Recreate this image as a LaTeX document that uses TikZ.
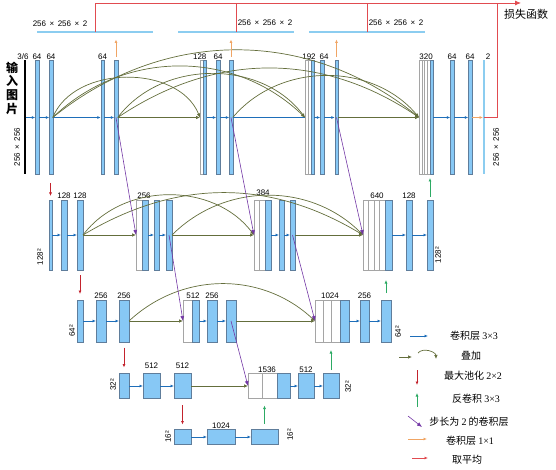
\documentclass[tikz,border=0pt]{standalone}
\usepackage{fontspec}
\setmainfont{Liberation Sans}
\newfontfamily\cjk{Noto Sans CJK SC}
\newfontfamily\legserif{Liberation Serif}
\usetikzlibrary{arrows.meta,positioning}

\definecolor{barfill}{RGB}{135,200,245}
\definecolor{barline}{RGB}{95,125,155}
\definecolor{catline}{RGB}{165,165,165}
\definecolor{mapcyan}{RGB}{140,205,240}
\definecolor{convblue}{RGB}{30,110,185}
\definecolor{skipolive}{RGB}{100,110,60}
\definecolor{strideviolet}{RGB}{115,55,165}
\definecolor{poolred}{RGB}{195,35,45}
\definecolor{upgreen}{RGB}{45,170,100}
\definecolor{oneorange}{RGB}{240,165,100}
\definecolor{avgred}{RGB}{225,75,80}

\newcommand{\tms}{\hspace{3.5pt}×\hspace{3.5pt}}

\begin{document}
\begin{tikzpicture}[
  x=1pt, y=-1pt,
  font=\fontsize{8}{9}\selectfont,
  every label/.style={inner sep=1pt},
  fmap/.style={draw=barline, fill=barfill, line width=0.5pt, inner sep=0pt, outer sep=0pt, minimum width=3.5pt},
  catbox/.style={draw=catline, fill=white, line width=0.5pt, inner sep=0pt, outer sep=0pt},
  r1/.style={minimum height=114pt, label distance=2.5pt},
  r2/.style={minimum height=70pt, label distance=5pt},
  r3/.style={minimum height=42pt, label distance=6pt},
  r4/.style={minimum height=25pt, label distance=4pt},
  r5/.style={minimum height=15pt, label distance=2.5pt},
  outmap/.style={fill=mapcyan, inner sep=0pt, outer sep=0pt, minimum height=1.4pt, minimum width=116pt},
  conv/.style={draw=convblue, line width=0.7pt, -{Latex[length=3.5pt,width=3pt]}},
  convline/.style={draw=convblue, line width=0.7pt},
  concat/.style={draw=skipolive, line width=0.7pt, -{Latex[length=4pt,width=3.5pt]}},
  stride/.style={draw=strideviolet, line width=0.6pt, -{Latex[length=5pt,width=4pt]}},
  pool/.style={draw=poolred, line width=0.7pt, -{Latex[length=3.5pt,width=3pt]}},
  deconv/.style={draw=upgreen, line width=0.7pt, -{Latex[length=3.5pt,width=3pt]}},
  onebyone/.style={draw=oneorange, line width=0.7pt, -{Latex[length=3.5pt,width=3pt]}},
  avg/.style={draw=avgred, line width=0.8pt},
  sidetxt/.style={rotate=90, inner sep=0pt},
  legtxt/.style={font=\cjk\fontsize{10}{12}\selectfont, inner sep=0pt}
]
\useasboundingbox (0,0) rectangle (556,470);

% ====================== 256 x 256 ======================
\node[fill=black, inner sep=0pt, outer sep=0pt, minimum width=1.2pt, minimum height=114pt] (inp) at (25,117.5) {};
\node[font=\cjk\bfseries\fontsize{12}{13.7}\selectfont, align=center, inner sep=0pt] (inptxt) at (12,88) {输\\入\\图\\片};
\node[sidetxt] (s1l) at (17,147) {256\tms256};

\node[fmap, r1, label=above:64, label={[xshift=-14pt]above:3/6}] (r1b1) at (37,117.5) {};
\node[fmap, r1, label=above:64] (r1b2) at (51,117.5) {};
\node[fmap, r1, label=above:64] (r1b3) at (102.5,117.5) {};
\node[fmap, r1] (r1b4) at (116,117.5) {};
\node[catbox, r1, minimum width=3pt] (r1k1a) at (201.5,117.5) {};
\node[fmap, r1, right=0pt of r1k1a, label={[xshift=-5pt]above:128}] (r1k1b) {};
\node[fmap, r1, label=above:64] (r1b5) at (218,117.5) {};
\node[fmap, r1] (r1b6) at (231,117.5) {};
\node[catbox, r1, minimum width=3pt] (r1k2a) at (306.5,117.5) {};
\node[catbox, r1, minimum width=3pt, right=0pt of r1k2a] (r1k2b) {};
\node[fmap, r1, minimum width=3pt, right=0pt of r1k2b, label={[xshift=-3.5pt]above:192}] (r1k2c) {};
\node[fmap, r1, label={[xshift=2pt]above:64}] (r1b7) at (322,117.5) {};
\node[fmap, r1] (r1b8) at (336.5,117.5) {};
\node[catbox, r1, minimum width=2.75pt] (r1k3a) at (420.4,117.5) {};
\node[catbox, r1, minimum width=2.75pt, right=0pt of r1k3a] (r1k3b) {};
\node[catbox, r1, minimum width=2.75pt, right=0pt of r1k3b] (r1k3c) {};
\node[catbox, r1, minimum width=2.75pt, right=0pt of r1k3c] (r1k3d) {};
\node[fmap, r1, minimum width=3pt, right=0pt of r1k3d, label={[xshift=-5.5pt]above:320}] (r1k3e) {};
\node[fmap, r1, label=above:64] (r1b9) at (452,117.5) {};
\node[fmap, r1, label=above:64] (r1b10) at (470,117.5) {};
\node[fill=mapcyan, inner sep=0pt, outer sep=0pt, r1, minimum width=2pt, label={[xshift=4pt]above:2}] (r1out) at (484,117.5) {};
\node[sidetxt] (s1r) at (496,147) {256\tms256};

% uscite supervisionate
\node[outmap] (o1) at (95,32) {};
\node[outmap] (o2) at (236,32) {};
\node[outmap] (o3) at (367,32) {};
\node (t1) at (60,23.5) {256\tms256\tms2};
\node (t2) at (265,23) {256\tms256\tms2};
\node (t3) at (396,23) {256\tms256\tms2};
\coordinate (loss) at (521,3);
\coordinate (turn) at (497,117.5);
\node[font=\cjk\fontsize{11}{12}\selectfont, inner sep=0pt] (losstxt) at (526,14) {损失函数};

% ====================== 128 x 128 ======================
\node[sidetxt] (s2l) at (40,257) {128²};
\node[fmap, r2, minimum width=3pt] (r2b1) at (50.5,235) {};
\node[fmap, r2, minimum width=6pt, label=above:128] (r2b2) at (64,235) {};
\node[fmap, r2, minimum width=6pt, label=above:128] (r2b3) at (80,235) {};
\node[catbox, r2, minimum width=6pt] (r2k1a) at (139,235) {};
\node[fmap, r2, minimum width=6pt, right=0pt of r2k1a, label={[xshift=-1pt]above:256}] (r2k1b) {};
\node[fmap, r2, minimum width=5pt] (r2b4) at (156.5,235) {};
\node[fmap, r2, minimum width=6pt] (r2b5) at (169,235) {};
\node[catbox, r2, minimum width=5.5pt] (r2k2a) at (256.75,235) {};
\node[catbox, r2, minimum width=5.5pt, right=0pt of r2k2a] (r2k2b) {};
\node[fmap, r2, minimum width=6pt, right=0pt of r2k2b, label={[xshift=-5pt, yshift=3pt]above:384}] (r2k2c) {};
\node[fmap, r2, minimum width=5pt] (r2b6) at (281.5,235) {};
\node[fmap, r2, minimum width=5pt] (r2b7) at (292.5,235) {};
\node[catbox, r2, minimum width=5.5pt] (r2k3a) at (365.75,235) {};
\node[catbox, r2, minimum width=5.5pt, right=0pt of r2k3a] (r2k3b) {};
\node[catbox, r2, minimum width=5.5pt, right=0pt of r2k3b] (r2k3c) {};
\node[catbox, r2, minimum width=5.5pt, right=0pt of r2k3c] (r2k3d) {};
\node[fmap, r2, minimum width=7pt, right=0pt of r2k3d, label={[xshift=-11.5pt]above:640}] (r2k3e) {};
\node[fmap, r2, minimum width=6pt, label=above:128] (r2b8) at (409,235) {};
\node[fmap, r2, minimum width=6pt] (r2b9) at (430,235) {};
\node[sidetxt] (s2r) at (438,255) {128²};

% ====================== 64 x 64 ======================
\node[sidetxt] (s3l) at (72,331) {64²};
\node[fmap, r3, minimum width=6pt] (r3b1) at (80,321) {};
\node[fmap, r3, minimum width=10pt, label=above:256] (r3b2) at (101,321) {};
\node[fmap, r3, minimum width=10pt, label=above:256] (r3b3) at (124,321) {};
\node[catbox, r3, minimum width=9pt] (r3k1a) at (187.5,321) {};
\node[fmap, r3, minimum width=7pt, right=0pt of r3k1a, label={[xshift=-2.5pt]above:512}] (r3k1b) {};
\node[fmap, r3, minimum width=10pt, label=above:256] (r3b4) at (212,321) {};
\node[fmap, r3, minimum width=10pt] (r3b5) at (231,321) {};
\node[catbox, r3, minimum width=8.33pt] (r3k2a) at (319.17,321) {};
\node[catbox, r3, minimum width=8.33pt, right=0pt of r3k2a] (r3k2b) {};
\node[catbox, r3, minimum width=8.33pt, right=0pt of r3k2b] (r3k2c) {};
\node[fmap, r3, minimum width=9pt, right=0pt of r3k2c, label={[xshift=-14.5pt]above:1024}] (r3k2d) {};
\node[fmap, r3, minimum width=9pt, label=above:256] (r3b6) at (364.5,321) {};
\node[fmap, r3, minimum width=10pt] (r3b7) at (386,321) {};
\node[sidetxt] (s3r) at (398,332) {64²};

% ====================== 32 x 32 ======================
\node[sidetxt] (s4l) at (113,385) {32²};
\node[fmap, r4, minimum width=10pt] (r4b1) at (124,386) {};
\node[fmap, r4, minimum width=17pt, label={[yshift=3.5pt]above:512}] (r4b2) at (151.5,386) {};
\node[fmap, r4, minimum width=17pt, label={[yshift=3.5pt]above:512}] (r4b3) at (182.5,386) {};
\node[catbox, r4, minimum width=14.5pt] (r4k1a) at (255.25,386) {};
\node[catbox, r4, minimum width=14.5pt, right=0pt of r4k1a] (r4k1b) {};
\node[fmap, r4, minimum width=13pt, right=0pt of r4k1b, label={[xshift=-16.5pt]above:1536}] (r4k1c) {};
\node[fmap, r4, minimum width=16pt, label=above:512] (r4b4) at (306,386) {};
\node[fmap, r4, minimum width=16pt] (r4b5) at (331,386) {};
\node[sidetxt] (s4r) at (348,387) {32²};

% ====================== 16 x 16 ======================
\node[sidetxt] (s5l) at (168,437) {16²};
\node[fmap, r5, minimum width=17pt] (r5b1) at (182.5,437) {};
\node[fmap, r5, minimum width=28pt, label=above:1024] (r5b2) at (221,437) {};
\node[fmap, r5, minimum width=27pt] (r5b3) at (264.5,437) {};
\node[sidetxt] (s5r) at (290,435) {16²};

% convoluzioni 3x3
\draw[conv] (inp.east) -- (r1b1.west);
\draw[conv] (r1b1.east) -- (r1b2.west);
\draw[conv] (r1b2.east) -- (r1b3.west);
\draw[conv] (r1b3.east) -- (r1b4.west);
\draw[conv] (r1k1b.east) -- (r1b5.west);
\draw[conv] (r1b5.east) -- (r1b6.west);
\draw[convline] (r1b6.east) -- (r1k2a.west);
\draw[conv] (r1k2c.east) -- (r1b7.west);
\draw[conv] (r1b7.east) -- (r1b8.west);
\draw[conv] (r1k3e.east) -- (r1b9.west);
\draw[conv] (r1b9.east) -- (r1b10.west);
\draw[conv] (r2b1.east) -- (r2b2.west);
\draw[conv] (r2b2.east) -- (r2b3.west);
\draw[conv] (r2k1b.east) -- (r2b4.west);
\draw[conv] (r2b4.east) -- (r2b5.west);
\draw[conv] (r2k2c.east) -- (r2b6.west);
\draw[conv] (r2b6.east) -- (r2b7.west);
\draw[conv] (r2k3e.east) -- (r2b8.west);
\draw[conv] (r2b8.east) -- (r2b9.west);
\draw[conv] (r3b1.east) -- (r3b2.west);
\draw[conv] (r3b2.east) -- (r3b3.west);
\draw[conv] (r3k1b.east) -- (r3b4.west);
\draw[conv] (r3b4.east) -- (r3b5.west);
\draw[conv] (r3k2d.east) -- (r3b6.west);
\draw[conv] (r3b6.east) -- (r3b7.west);
\draw[conv] (r4b1.east) -- (r4b2.west);
\draw[conv] (r4b2.east) -- (r4b3.west);
\draw[conv] (r4k1c.east) -- (r4b4.west);
\draw[conv] (r4b4.east) -- (r4b5.west);
\draw[conv] (r5b1.east) -- (r5b2.west);
\draw[conv] (r5b2.east) -- (r5b3.west);

% skip (concatenazione)
\draw[concat] (r1b4.east) -- (r1k1a.west);
\draw[concat] (r1b8.east) -- (r1k3a.west);
\draw[concat] (r1b2.east) to[bend left=68] (r1k1a.west);
\draw[concat] (r1b2.east) to[bend left=44] (r1k2a.west);
\draw[concat] (r1b2.east) to[bend left=39] (r1k3a.west);
\draw[concat] (r1b4.east) to[bend left=53] (r1k2a.west);
\draw[concat] (r1b4.east) to[bend left=34] (r1k3a.west);
\draw[concat] (r1b6.east) to[bend left=50] (r1k3a.west);
\draw[concat] (r2b3.east) -- (r2k1a.west);
\draw[concat] (r2b5.east) -- (r2k2a.west);
\draw[concat] (r2b7.east) -- (r2k3a.west);
\draw[concat] (r2b3.east) to[bend left=53] (r2k2a.west);
\draw[concat] (r2b3.east) to[bend left=31] (r2k3a.west);
\draw[concat] (r2b5.east) to[bend left=45] (r2k3a.west);
\draw[concat] (r3b3.east) -- (r3k1a.west);
\draw[concat] (r3b5.east) -- (r3k2a.west);
\draw[concat] (r3b3.east) to[bend left=43] (r3k2a.west);
\draw[concat] (r4b3.east) -- (r4k1a.west);

% convoluzioni con passo 2
\draw[stride] (r1b4.center) -- (r2k1a.west);
\draw[stride] (r1b6.center) -- (r2k2a.west);
\draw[stride] (r1b8.center) -- (r2k3a.west);
\draw[stride] (r2b5.center) -- (r3k1a.west);
\draw[stride] (r2b7.center) -- (r3k2a.west);
\draw[stride] (r3b5.center) -- (r4k1a.west);

% max pooling e deconvoluzioni
\draw[pool] ([yshift=17pt]r2b1.north) -- ([yshift=4pt]r2b1.north);
\draw[pool] ([yshift=25pt]r3b1.north) -- ([yshift=6pt]r3b1.north);
\draw[pool] ([yshift=26pt]r4b1.north) -- ([yshift=6pt]r4b1.north);
\draw[pool] ([yshift=24.5pt]r5b1.north) -- ([yshift=5pt]r5b1.north);
\draw[deconv] ([yshift=6pt]r5b3.north) -- ([yshift=24pt]r5b3.north);
\draw[deconv] ([yshift=3.5pt]r4b5.north) -- ([yshift=23.5pt]r4b5.north);
\draw[deconv] ([yshift=7pt]r3b7.north) -- ([yshift=20pt]r3b7.north);
\draw[deconv] ([yshift=3pt]r2b9.north) -- ([yshift=22pt]r2b9.north);

% 1x1 e media
\draw[onebyone] ([yshift=3.5pt]r1b4.north) -- ([yshift=21pt]r1b4.north);
\draw[onebyone] ([yshift=3.5pt]r1b6.north) -- ([yshift=21pt]r1b6.north);
\draw[onebyone] ([yshift=3.5pt]r1b8.north) -- ([yshift=21pt]r1b8.north);
\draw[onebyone] (r1b10.east) -- (r1out.west);
\draw[avg] (o1.center) -- (o1.center |- loss);
\draw[avg] (o2.center) -- (o2.center |- loss);
\draw[avg] (o3.center) -- (o3.center |- loss);
\draw[avg] (r1out.center) -- (turn) -- (turn |- loss);
\draw[avg, -{Latex[length=6pt,width=5pt]}] (o1.center |- loss) -- (loss);

% ====================== LEGENDA ======================
\coordinate (lg1a) at (410,336); \coordinate (lg1b) at (428,336);
\draw[conv] (lg1a) -- (lg1b);
\node[legtxt] (lg1) at (474,336) {卷积层 {\legserif 3×3}};
\coordinate (lg2a) at (399,357); \coordinate (lg2b) at (412,357);
\coordinate (lg2c) at (418,353); \coordinate (lg2d) at (436,359);
\draw[concat] (lg2a) -- (lg2b);
\draw[concat] (lg2c) to[bend left=70] (lg2d);
\node[legtxt] (lg2) at (471,356) {叠加};
\coordinate (lg3a) at (417,370); \coordinate (lg3b) at (417,385);
\draw[pool] (lg3a) -- (lg3b);
\node[legtxt] (lg3) at (473,376) {最大池化 {\legserif 2×2}};
\coordinate (lg4a) at (417,407); \coordinate (lg4b) at (417,393);
\draw[deconv] (lg4a) -- (lg4b);
\node[legtxt] (lg4) at (476,399) {反卷积 {\legserif 3×3}};
\coordinate (lg5a) at (408,416); \coordinate (lg5b) at (422,427);
\draw[stride] (lg5a) -- (lg5b);
\node[legtxt] (lg5) at (469,422) {步长为 {\legserif 2} 的卷积层};
\coordinate (lg6a) at (408,439); \coordinate (lg6b) at (427,439);
\draw[onebyone] (lg6a) -- (lg6b);
\node[legtxt] (lg6) at (470,441) {卷积层 {\legserif 1×1}};
\coordinate (lg7a) at (412,458); \coordinate (lg7b) at (428,458);
\draw[avg, -{Latex[length=3.5pt,width=3pt]}] (lg7a) -- (lg7b);
\node[legtxt] (lg7) at (467,460) {取平均};

\end{tikzpicture}
\end{document}
